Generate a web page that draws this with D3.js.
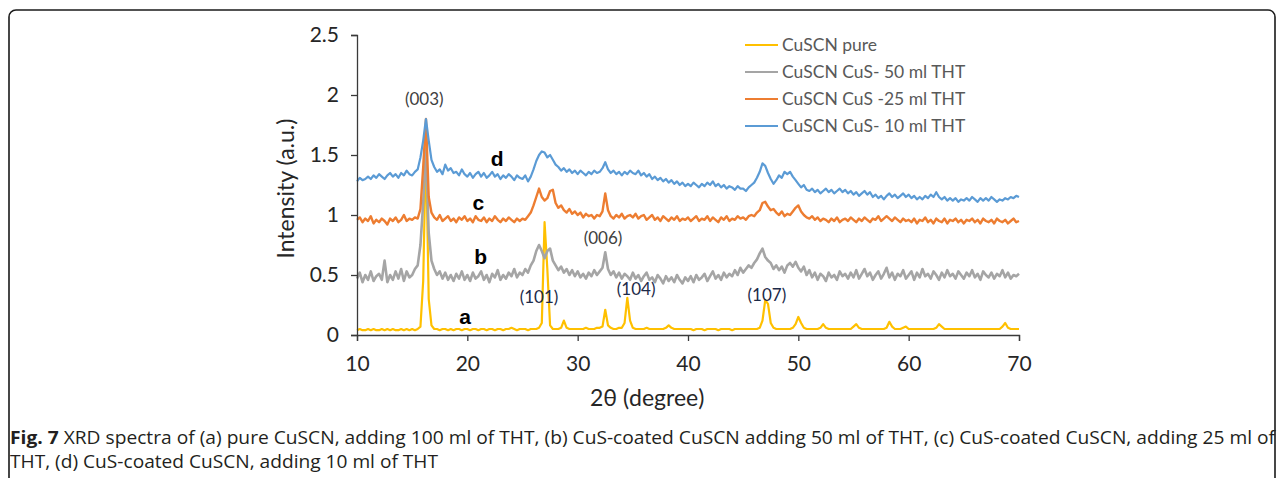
<!DOCTYPE html>
<html>
<head>
<meta charset="utf-8">
<script src="https://cdn.jsdelivr.net/npm/d3@7/dist/d3.min.js"></script>
<style>
  html, body { margin: 0; padding: 0; background: #fff; }
  svg { display: block; }
</style>
</head>
<body>
<svg id="chart" width="1282" height="478"></svg>
<script>
// ---------- DATA ----------
// 2θ sampling: 10° to 70° every 0.25°  (241 samples)
const thetaStart = 10, thetaStep = 0.25, nSamples = 241;

// (a) CuSCN pure
const pureCuSCN = [
  0.04,0.05,0.04,0.04,0.05,0.04,0.05,0.04,0.04,0.05,0.04,0.05,0.04,0.05,0.04,0.04,0.05,0.04,0.05,0.04,
  0.05,0.04,0.05,0.07,0.45,1.60,0.30,0.08,0.05,0.05,0.04,0.05,0.05,0.04,0.05,0.04,0.05,0.05,0.04,0.05,
  0.05,0.04,0.05,0.05,0.04,0.05,0.05,0.04,0.05,0.05,0.04,0.05,0.05,0.04,0.05,0.05,0.06,0.05,0.04,0.05,
  0.05,0.05,0.04,0.05,0.05,0.05,0.06,0.10,0.94,0.55,0.08,0.05,0.05,0.05,0.06,0.12,0.06,0.05,0.05,0.05,
  0.05,0.05,0.05,0.06,0.05,0.05,0.05,0.06,0.06,0.07,0.21,0.08,0.06,0.05,0.05,0.06,0.06,0.10,0.31,0.12,
  0.06,0.05,0.05,0.05,0.05,0.06,0.05,0.05,0.05,0.05,0.05,0.05,0.06,0.08,0.06,0.05,0.05,0.05,0.05,0.05,
  0.05,0.05,0.04,0.05,0.05,0.05,0.04,0.05,0.05,0.05,0.05,0.04,0.05,0.05,0.05,0.05,0.04,0.05,0.05,0.05,
  0.05,0.05,0.05,0.05,0.05,0.05,0.06,0.12,0.29,0.26,0.10,0.06,0.05,0.05,0.05,0.05,0.05,0.05,0.06,0.09,
  0.15,0.10,0.06,0.05,0.05,0.05,0.05,0.05,0.06,0.09,0.06,0.05,0.05,0.05,0.05,0.05,0.05,0.05,0.05,0.05,
  0.07,0.09,0.06,0.05,0.05,0.05,0.05,0.05,0.05,0.05,0.05,0.05,0.06,0.11,0.07,0.05,0.05,0.05,0.06,0.07,
  0.05,0.05,0.05,0.05,0.05,0.05,0.05,0.05,0.05,0.05,0.06,0.09,0.07,0.05,0.05,0.05,0.05,0.05,0.05,0.05,
  0.05,0.05,0.05,0.05,0.05,0.05,0.05,0.05,0.05,0.05,0.05,0.05,0.05,0.05,0.07,0.10,0.06,0.05,0.05,0.05,
  0.05
];

// (b) CuSCN CuS- 50 ml THT
const cus50 = [
  0.47,0.52,0.44,0.50,0.46,0.53,0.45,0.49,0.51,0.46,0.62,0.44,0.50,0.46,0.53,0.47,0.55,0.45,0.53,0.48,
  0.50,0.55,0.58,0.75,1.10,1.55,0.85,0.62,0.55,0.50,0.53,0.47,0.52,0.46,0.50,0.45,0.51,0.47,0.53,0.46,
  0.50,0.45,0.52,0.47,0.49,0.53,0.46,0.50,0.44,0.51,0.48,0.54,0.46,0.50,0.47,0.52,0.49,0.55,0.48,0.52,
  0.50,0.55,0.52,0.58,0.62,0.70,0.75,0.70,0.64,0.70,0.72,0.62,0.58,0.54,0.57,0.52,0.55,0.50,0.54,0.49,
  0.53,0.48,0.51,0.47,0.52,0.49,0.54,0.50,0.53,0.56,0.69,0.55,0.50,0.53,0.48,0.52,0.47,0.51,0.49,0.46,
  0.52,0.47,0.50,0.45,0.49,0.52,0.46,0.48,0.44,0.50,0.47,0.43,0.49,0.45,0.48,0.44,0.50,0.46,0.43,0.48,
  0.45,0.49,0.44,0.50,0.46,0.48,0.51,0.45,0.49,0.53,0.47,0.50,0.46,0.52,0.48,0.51,0.49,0.54,0.50,0.56,
  0.52,0.55,0.58,0.56,0.60,0.63,0.68,0.72,0.65,0.62,0.60,0.55,0.58,0.54,0.57,0.52,0.58,0.60,0.57,0.61,
  0.56,0.53,0.57,0.50,0.54,0.48,0.52,0.46,0.51,0.49,0.45,0.52,0.48,0.50,0.46,0.53,0.49,0.51,0.47,0.52,
  0.48,0.54,0.47,0.51,0.55,0.49,0.52,0.46,0.50,0.53,0.47,0.51,0.56,0.48,0.52,0.46,0.51,0.49,0.54,0.47,
  0.50,0.53,0.46,0.52,0.48,0.55,0.49,0.51,0.47,0.53,0.50,0.46,0.52,0.48,0.54,0.49,0.51,0.47,0.53,0.50,
  0.47,0.52,0.49,0.54,0.48,0.51,0.46,0.53,0.50,0.48,0.52,0.47,0.51,0.49,0.54,0.48,0.52,0.47,0.50,0.49,
  0.51
];

// (c) CuSCN CuS -25 ml THT
const cus25 = [
  0.96,0.98,0.94,0.97,0.95,0.99,0.93,0.96,0.94,0.97,0.95,0.92,0.97,0.95,0.98,0.94,0.96,1.00,0.95,0.97,
  0.96,0.98,0.97,1.05,1.40,1.80,1.15,1.02,0.98,0.96,1.00,0.95,0.97,0.99,0.95,0.97,0.94,0.98,0.96,0.99,
  0.95,0.97,0.94,0.99,0.96,0.95,0.98,0.94,0.97,0.95,0.99,0.96,0.94,0.97,0.95,0.98,0.96,0.94,0.97,0.95,
  0.97,0.96,0.99,1.02,1.08,1.15,1.22,1.15,1.12,1.14,1.20,1.21,1.10,1.06,1.08,1.04,1.02,1.05,1.01,1.03,
  1.00,1.02,0.98,1.01,0.99,1.00,0.97,1.00,0.99,1.03,1.18,1.04,0.99,0.97,1.00,0.98,1.01,0.97,0.99,1.00,
  0.98,1.01,0.97,0.99,1.00,0.96,0.98,1.00,0.96,0.98,0.95,0.99,0.97,0.95,0.98,0.96,0.99,0.95,0.97,0.96,
  0.98,0.95,0.97,0.99,0.95,0.97,0.96,0.99,0.95,0.98,0.96,0.94,0.98,0.96,0.99,0.95,0.97,0.96,0.99,0.97,
  0.98,0.96,0.99,1.00,0.99,1.02,1.04,1.10,1.11,1.07,1.04,1.05,1.02,1.00,1.03,0.99,1.01,1.00,1.03,1.06,
  1.08,1.03,1.00,0.98,0.97,0.99,0.96,0.98,0.95,0.97,0.96,0.94,0.97,0.95,0.98,0.94,0.96,0.97,0.95,0.98,
  0.96,0.94,0.97,0.95,0.98,0.96,0.94,0.97,0.96,0.99,0.95,0.97,0.99,0.97,0.95,0.98,0.96,0.94,0.97,0.95,
  0.96,0.94,0.97,0.93,0.96,0.95,0.98,0.94,0.96,0.93,0.97,0.95,0.94,0.97,0.93,0.96,0.95,0.97,0.94,0.96,
  0.93,0.96,0.95,0.97,0.94,0.96,0.93,0.97,0.95,0.94,0.96,0.93,0.97,0.95,0.94,0.96,0.93,0.95,0.97,0.94,
  0.95
];

// (d) CuSCN CuS- 10 ml THT
const cus10 = [
  1.28,1.31,1.29,1.30,1.32,1.30,1.33,1.31,1.34,1.32,1.30,1.33,1.35,1.32,1.34,1.31,1.35,1.33,1.37,1.34,
  1.33,1.36,1.38,1.48,1.62,1.80,1.62,1.46,1.40,1.36,1.38,1.34,1.42,1.37,1.39,1.35,1.36,1.33,1.38,1.34,
  1.32,1.35,1.31,1.34,1.36,1.32,1.35,1.31,1.33,1.36,1.32,1.34,1.30,1.33,1.31,1.34,1.32,1.29,1.33,1.31,
  1.30,1.33,1.28,1.32,1.38,1.45,1.50,1.53,1.52,1.48,1.50,1.46,1.42,1.40,1.37,1.39,1.36,1.38,1.35,1.37,
  1.34,1.37,1.35,1.33,1.36,1.34,1.37,1.35,1.36,1.39,1.44,1.38,1.35,1.37,1.34,1.36,1.33,1.36,1.34,1.37,
  1.35,1.34,1.37,1.33,1.35,1.32,1.34,1.30,1.32,1.29,1.31,1.28,1.30,1.27,1.29,1.26,1.28,1.25,1.27,1.24,
  1.26,1.24,1.27,1.25,1.23,1.26,1.24,1.27,1.25,1.28,1.24,1.26,1.23,1.25,1.22,1.24,1.23,1.21,1.24,1.22,
  1.22,1.20,1.23,1.25,1.27,1.31,1.36,1.43,1.41,1.35,1.30,1.26,1.29,1.33,1.31,1.36,1.34,1.36,1.32,1.29,
  1.26,1.23,1.25,1.21,1.20,1.22,1.19,1.21,1.18,1.20,1.22,1.19,1.21,1.18,1.20,1.22,1.19,1.21,1.18,1.20,
  1.17,1.19,1.16,1.18,1.20,1.17,1.19,1.15,1.17,1.14,1.16,1.13,1.16,1.18,1.15,1.17,1.14,1.16,1.18,1.15,
  1.17,1.14,1.16,1.13,1.15,1.13,1.16,1.14,1.17,1.15,1.19,1.15,1.13,1.15,1.12,1.14,1.12,1.14,1.11,1.13,
  1.12,1.14,1.12,1.15,1.13,1.11,1.14,1.12,1.14,1.12,1.15,1.13,1.11,1.13,1.12,1.14,1.13,1.15,1.14,1.16,
  1.15
];

const seriesNames  = ["CuSCN pure", "CuSCN CuS- 50 ml THT", "CuSCN CuS -25 ml THT", "CuSCN CuS- 10 ml THT"];
const seriesColors = ["#FFC000", "#A5A5A5", "#ED7D31", "#5B9BD5"];
const seriesData   = [pureCuSCN, cus50, cus25, cus10];

const xTicks = [10, 20, 30, 40, 50, 60, 70];
const yTicks = [0, 0.5, 1, 1.5, 2, 2.5];
const yTickLabels = ["0", "0.5", "1", "1.5", "2", "2.5"];

const peakLabels = [
  { text: "(003)", x: 16.1, y: 1.97, color: "#404040" },
  { text: "(101)", x: 26.5, y: 0.32, color: "#1c2a48" },
  { text: "(006)", x: 32.3, y: 0.81, color: "#404040" },
  { text: "(104)", x: 35.3, y: 0.38, color: "#1c2a48" },
  { text: "(107)", x: 47.15, y: 0.33, color: "#1c2a48" }
];
const curveLetters = [
  { text: "a", x: 19.8, y: 0.15 },
  { text: "b", x: 21.2, y: 0.65 },
  { text: "c", x: 21.0, y: 1.10 },
  { text: "d", x: 22.7, y: 1.47 }
];

const xTitle = "2θ (degree)";
const yTitle = "Intensity (a.u.)";
const captionBold = "Fig. 7";
const captionLine1 = " XRD spectra of (a) pure CuSCN, adding 100 ml of THT, (b) CuS-coated CuSCN adding 50 ml of THT, (c) CuS-coated CuSCN, adding 25 ml of";
const captionLine2 = "THT, (d) CuS-coated CuSCN, adding 10 ml of THT";

// ---------- DRAWING ----------
const svg = d3.select("#chart");
const chartFont = "Lato, 'Open Sans', sans-serif";

// rounded frame
svg.append("rect")
  .attr("x", 9).attr("y", 10).attr("width", 1266).attr("height", 520)
  .attr("rx", 7).attr("ry", 7)
  .attr("fill", "none").attr("stroke", "#1a1a1a").attr("stroke-width", 1.6);

const x = d3.scaleLinear().domain([10, 70]).range([357, 1019]);
const y = d3.scaleLinear().domain([0, 2.5]).range([335, 35]);

const thetaOf = i => thetaStart + i * thetaStep;
const line = d3.line()
  .x((d, i) => x(thetaOf(i)))
  .y(d => y(d));

// series
const strokeWidths = [2.2, 2.6, 2.4, 2.2];
seriesData.forEach((arr, k) => {
  svg.append("path")
    .datum(arr.slice(0, nSamples))
    .attr("d", line)
    .attr("fill", "none")
    .attr("stroke", seriesColors[k])
    .attr("stroke-width", strokeWidths[k])
    .attr("stroke-linejoin", "round");
});

// axes
const axisColor = "#3a3a3a";
const xAxis = d3.axisBottom(x).tickValues(xTicks).tickSize(6).tickPadding(15).tickFormat(d3.format("d"));
const gx = svg.append("g").attr("transform", `translate(0,${y(0)})`).call(xAxis);
gx.select(".domain").attr("stroke", axisColor).attr("stroke-width", 1.3);
gx.selectAll(".tick line").attr("stroke", axisColor).attr("stroke-width", 1.3);
gx.selectAll(".tick text").attr("fill", "#262626").style("font-family", chartFont).style("font-size", "21px");

const yAxis = d3.axisLeft(y).tickValues(yTicks).tickSize(6).tickPadding(12)
  .tickFormat((d, i) => yTickLabels[i]);
const gy = svg.append("g").attr("transform", `translate(${x(10)},0)`).call(yAxis);
gy.select(".domain").attr("stroke", axisColor).attr("stroke-width", 1.3);
gy.selectAll(".tick line").attr("stroke", axisColor).attr("stroke-width", 1.3);
gy.selectAll(".tick text").attr("fill", "#262626").style("font-family", chartFont).style("font-size", "21px");

// axis titles
svg.append("text")
  .attr("x", x(36.3)).attr("y", 406)
  .attr("text-anchor", "middle")
  .style("font-family", chartFont).style("font-size", "23px").attr("fill", "#262626")
  .text(xTitle);

svg.append("text")
  .attr("transform", `translate(294,${y(1.22)}) rotate(-90)`)
  .attr("text-anchor", "middle")
  .style("font-family", chartFont).style("font-size", "23px").attr("fill", "#262626")
  .text(yTitle);

// peak labels
svg.selectAll("text.peak").data(peakLabels).join("text")
  .attr("class", "peak")
  .attr("x", d => x(d.x)).attr("y", d => y(d.y))
  .attr("text-anchor", "middle").attr("dy", "0.35em")
  .style("font-family", chartFont).style("font-size", "17px")
  .attr("fill", d => d.color)
  .text(d => d.text);

// curve letters
svg.selectAll("text.letter").data(curveLetters).join("text")
  .attr("class", "letter")
  .attr("x", d => x(d.x)).attr("y", d => y(d.y))
  .attr("text-anchor", "middle").attr("dy", "0.35em")
  .style("font-family", "'Liberation Sans', Arial, sans-serif").style("font-size", "21px")
  .style("font-weight", "bold").attr("fill", "#000")
  .text(d => d.text);

// legend
const legend = svg.append("g");
seriesNames.forEach((name, k) => {
  const ly = 45 + k * 27;
  legend.append("line")
    .attr("x1", 745).attr("x2", 778).attr("y1", ly).attr("y2", ly)
    .attr("stroke", seriesColors[k]).attr("stroke-width", 2);
  legend.append("text")
    .attr("x", 782).attr("y", ly).attr("dy", "0.35em")
    .style("font-family", chartFont).style("font-size", "17.5px")
    .attr("fill", "#595959")
    .text(name);
});

// caption
const capFont = "'Open Sans', 'Noto Sans', sans-serif";
const cap1 = svg.append("text")
  .attr("x", 10).attr("y", 444)
  .style("font-family", capFont).style("font-size", "18.5px").attr("fill", "#231f20");
cap1.append("tspan").style("font-weight", "bold").text(captionBold);
cap1.append("tspan").text(captionLine1);
cap1.attr("textLength", 1265).attr("lengthAdjust", "spacingAndGlyphs");

svg.append("text")
  .attr("x", 10).attr("y", 468)
  .style("font-family", capFont).style("font-size", "18.5px").attr("fill", "#231f20")
  .attr("textLength", 428).attr("lengthAdjust", "spacingAndGlyphs")
  .text(captionLine2);
</script>
</body>
</html>
